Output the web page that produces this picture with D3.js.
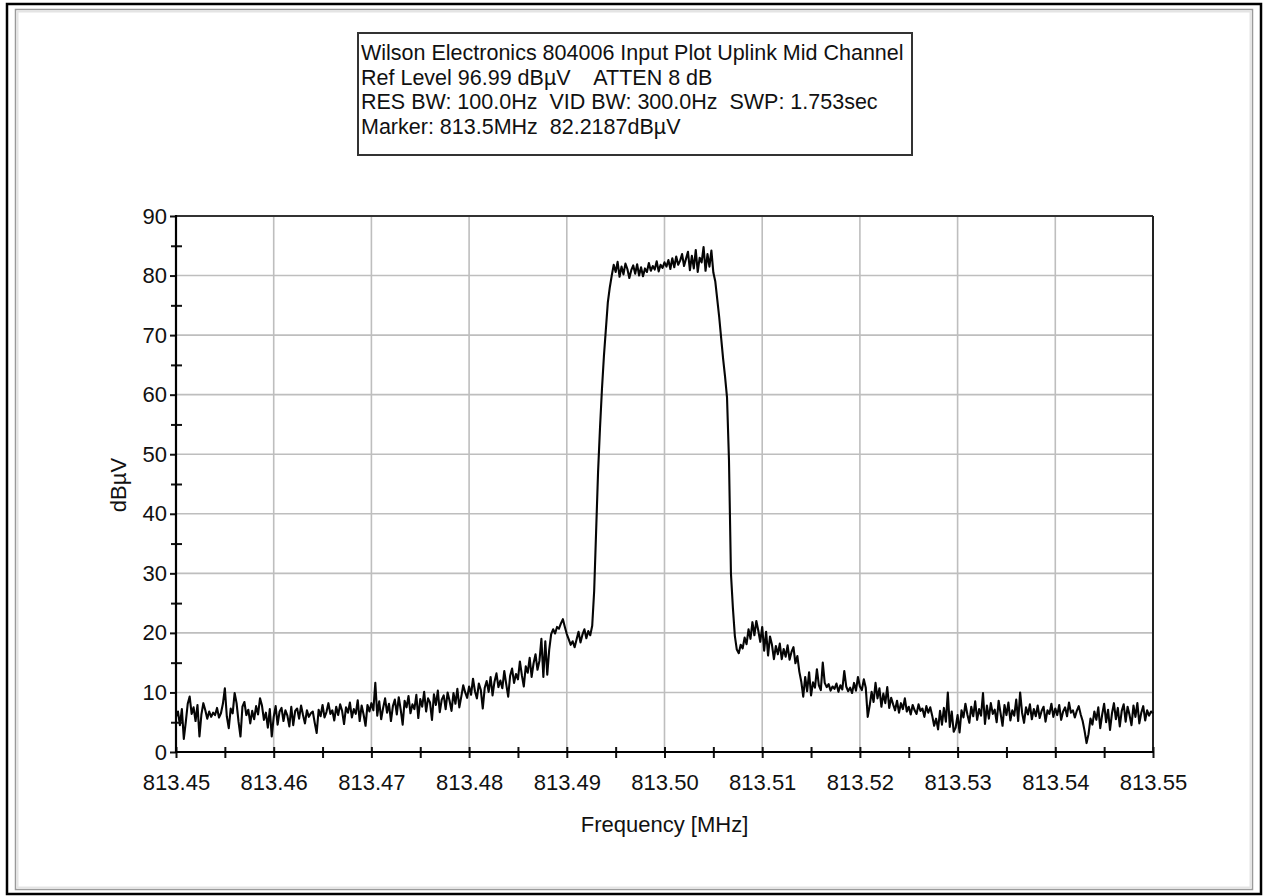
<!DOCTYPE html>
<html>
<head>
<meta charset="utf-8">
<script src="https://cdn.jsdelivr.net/npm/d3@7/dist/d3.min.js"></script>
<style>
  html, body { margin: 0; padding: 0; background: #fff; }
  svg { display: block; }
  text { font-family: "Liberation Sans", Arial, sans-serif; fill: #111; }
</style>
</head>
<body>
<svg id="chart" width="1268" height="896"></svg>
<script>
// Instrument header lines shown in the legend box
const headerLines = [
  "Wilson Electronics 804006 Input Plot Uplink Mid Channel",
  "Ref Level 96.99 dB\u00b5V    ATTEN 8 dB",
  "RES BW: 100.0Hz  VID BW: 300.0Hz  SWP: 1.753sec",
  "Marker: 813.5MHz  82.2187dB\u00b5V"
];

// Sweep settings (MHz)
const sweepStart = 813.45;
const sweepStop = 813.55;

// Axis tick values
const freqTicks = [813.45, 813.46, 813.47, 813.48, 813.49, 813.50, 813.51, 813.52, 813.53, 813.54, 813.55];
const freqMinorTicks = [813.455, 813.465, 813.475, 813.485, 813.495, 813.505, 813.515, 813.525, 813.535, 813.545];
const levelTicks = [0, 10, 20, 30, 40, 50, 60, 70, 80, 90];
const levelMinorTicks = [5, 15, 25, 35, 45, 55, 65, 75, 85];

// Measured trace, dBuV, one reading per sweep point (501 points)
const traceLevels = [
  5.9, 6.8, 4.5, 7.2, 2.2, 5.0, 8.1, 9.3, 6.4, 7.5,
  5.2, 7.9, 2.6, 6.3, 8.2, 7.0, 5.6, 6.8, 5.9, 6.6,
  6.2, 7.4, 5.8, 6.5, 8.1, 10.7, 6.0, 4.0, 7.3, 6.5,
  9.9, 8.2, 5.1, 2.6, 7.6, 8.4, 6.2, 7.1, 4.8, 6.9,
  5.5, 7.7, 6.3, 9.0, 7.8, 5.4, 6.6, 4.1, 7.2, 2.6,
  5.9, 7.7, 4.6, 6.8, 7.4, 5.2, 7.0, 6.1, 4.3, 7.6,
  4.5, 6.9, 7.3, 5.6, 7.8, 6.2, 4.8, 7.0, 5.9, 6.5,
  6.8, 4.9, 3.2, 7.1, 6.0, 7.9, 5.8, 6.7, 8.2, 6.4,
  7.0, 5.3, 7.6, 6.2, 8.0, 6.9, 4.7, 7.5, 6.6, 8.3,
  5.8, 7.2, 6.4, 8.7, 5.2, 7.8, 6.3, 4.4, 7.9, 6.8,
  8.2, 7.0, 11.6, 6.1, 8.5, 5.5, 7.4, 9.0, 6.6, 8.1,
  5.2, 7.7, 8.8, 6.3, 9.2, 7.1, 4.6, 8.6, 7.5, 9.4,
  6.5, 8.0, 7.2, 9.6, 5.7, 8.9, 7.6, 10.1, 6.8, 9.0,
  8.3, 5.4, 9.7, 7.9, 10.3, 6.7, 8.8, 9.5, 7.2, 10.0,
  8.6, 6.9, 9.9, 8.1, 10.6, 7.5, 9.3, 11.2, 10.0, 9.1,
  11.0, 9.6, 12.3, 10.2, 9.0, 11.5, 10.4, 7.3, 10.8, 11.9,
  10.1, 12.6, 9.5, 11.8, 13.2, 10.9, 12.0, 10.7, 13.6, 11.4,
  9.3, 12.8, 14.0, 11.6, 13.1, 12.2, 15.2, 12.9, 11.0, 14.4,
  13.3, 15.8, 12.6, 14.9, 16.4, 13.8, 15.3, 19.0, 12.6, 18.6,
  13.0, 17.2, 19.8, 20.6, 19.9, 21.0, 20.7, 21.6, 22.3, 21.0,
  19.8, 18.9, 18.0, 18.6, 17.6, 18.9, 20.2, 18.4, 19.7, 20.6,
  19.1, 20.3, 19.6, 21.2, 27.0, 37.0, 47.0, 54.5, 61.0, 66.5,
  71.0, 75.5, 78.0, 80.0, 81.8, 80.6, 82.3, 79.8, 81.5, 80.2,
  82.0, 81.1, 79.6, 80.9, 81.7, 80.3, 81.9, 80.0, 81.4, 79.9,
  81.2, 80.6, 82.1, 80.8, 81.6, 81.0, 82.4, 80.7, 81.8, 81.3,
  82.2187, 81.5, 82.6, 81.1, 82.9, 81.4, 83.2, 81.8, 82.5, 83.6,
  81.6, 82.8, 84.0, 80.9, 83.3, 81.2, 84.3, 80.6, 83.0, 82.2,
  84.8, 80.8, 83.6, 81.5, 84.2, 80.5, 79.0, 76.0, 73.0, 69.5,
  66.0, 63.0, 59.5, 49.0, 30.0, 24.2, 19.5, 17.2, 16.6, 18.0,
  17.4, 19.2, 18.1, 20.6, 19.0, 21.8, 19.6, 22.0, 20.4, 18.5,
  21.0, 17.0, 20.2, 16.2, 19.4, 18.0, 15.6, 17.8, 16.4, 18.2,
  15.6, 17.3, 16.0, 17.9, 15.5, 16.8, 17.6, 14.9, 16.1, 13.5,
  11.8, 9.3, 12.6, 10.2, 13.4, 9.5, 11.7, 10.8, 13.9, 11.2,
  10.4, 15.0, 11.6, 10.9, 11.4, 10.3, 11.0, 10.6, 11.5, 10.1,
  11.2, 10.5, 13.6, 11.0, 10.2, 10.8, 9.9, 11.6, 10.3, 12.6,
  11.0, 10.4, 12.2, 10.8, 5.9, 7.8, 10.1, 8.4, 11.6, 9.0,
  10.7, 7.6, 9.8, 8.2, 10.9, 7.4, 9.1, 8.0, 7.0, 8.6,
  6.6, 8.2, 7.2, 9.0, 6.8, 7.6, 6.3, 7.9, 7.0, 6.4,
  8.0, 6.9, 7.3, 5.9, 7.7, 6.6, 7.5, 6.1, 4.4, 5.6,
  3.8, 6.9, 4.6, 7.4, 5.1, 10.0, 4.2, 6.8, 3.4, 4.1,
  6.2, 3.3, 7.0, 5.8, 8.1, 6.3, 4.9, 7.6, 6.0, 8.5,
  5.4, 7.2, 6.1, 9.9, 4.7, 7.8, 5.6, 8.2, 6.4, 7.1,
  5.0, 8.6, 6.5, 4.4, 7.9, 6.2, 8.3, 5.3, 7.0, 6.1,
  8.8, 5.2, 10.0, 6.6, 4.9, 7.5, 6.3, 8.0, 5.5, 7.2,
  6.0, 7.8, 5.7, 6.9, 7.6, 5.1, 7.0, 6.4, 8.1, 5.9,
  7.3, 6.2, 7.9, 5.4, 6.8, 7.5, 6.0, 8.3, 6.6, 7.0,
  5.8, 6.9, 7.7, 6.3, 5.2, 3.5, 1.5, 3.0, 5.6, 4.6,
  6.8, 5.4, 7.5, 4.0, 6.3, 8.1, 5.0, 7.1, 3.7, 6.5,
  8.2, 5.5, 7.4, 4.3, 6.9, 8.0, 5.1, 7.6, 6.2, 4.5,
  7.8, 5.9, 8.2, 4.8, 6.6, 7.7, 5.3, 7.0, 6.1, 6.8,
  6.5
];

const svg = d3.select("#chart");
const W = 1268, H = 896;

// Page frame: dark outer border and grey inset edge
svg.append("rect").attr("x", 0).attr("y", 0).attr("width", W).attr("height", H).attr("fill", "#fff");
svg.append("rect")
  .attr("x", 7).attr("y", 4).attr("width", 1254).attr("height", 890)
  .attr("fill", "none").attr("stroke", "#000").attr("stroke-width", 2.5);
svg.append("rect")
  .attr("x", 15.5).attr("y", 9.5).attr("width", 1237).attr("height", 880)
  .attr("fill", "none").attr("stroke", "#9a9a9a").attr("stroke-width", 1.5);
svg.append("rect")
  .attr("x", 17.5).attr("y", 11.5).attr("width", 1233).attr("height", 876)
  .attr("fill", "none").attr("stroke", "#e4e4e4").attr("stroke-width", 2);

// Plot area
const plot = { left: 176, right: 1153, top: 216, bottom: 752 };
const x = d3.scaleLinear().domain([sweepStart, sweepStop]).range([plot.left, plot.right]);
const y = d3.scaleLinear().domain([0, 90]).range([plot.bottom, plot.top]);

const fontSize = 22;

// Grid
const grid = svg.append("g").attr("stroke", "#bebebe").attr("stroke-width", 1.6);
grid.selectAll("line.v").data(freqTicks.slice(1, -1)).join("line")
  .attr("x1", d => x(d)).attr("x2", d => x(d))
  .attr("y1", plot.top).attr("y2", plot.bottom);
grid.selectAll("line.h").data(levelTicks.slice(1, -1)).join("line")
  .attr("x1", plot.left).attr("x2", plot.right)
  .attr("y1", d => y(d)).attr("y2", d => y(d));

// Top and right plot borders
svg.append("line").attr("x1", plot.left).attr("x2", plot.right).attr("y1", plot.top).attr("y2", plot.top)
  .attr("stroke", "#333").attr("stroke-width", 2);
svg.append("line").attr("x1", plot.right).attr("x2", plot.right).attr("y1", plot.top).attr("y2", plot.bottom)
  .attr("stroke", "#222").attr("stroke-width", 2);

// Trace
const sweepStep = (sweepStop - sweepStart) / (traceLevels.length - 1);
const points = traceLevels.map((v, i) => [sweepStart + i * sweepStep, v]);
const line = d3.line().x(d => x(d[0])).y(d => y(d[1]));
svg.append("path")
  .datum(points)
  .attr("fill", "none")
  .attr("stroke", "#050505")
  .attr("stroke-width", 2.1)
  .attr("stroke-linejoin", "round")
  .attr("d", line);

// X axis: ticks cross the axis line
svg.append("g").attr("transform", `translate(0,${plot.bottom - 5})`)
  .call(d3.axisBottom(x).tickValues(freqTicks).tickSize(11).tickPadding(16).tickFormat(d3.format(".2f")));
svg.append("g").attr("transform", `translate(0,${plot.bottom - 5})`)
  .call(d3.axisBottom(x).tickValues(freqMinorTicks).tickSize(11).tickFormat(""));

// Y axis: major ticks outside, minor ticks across the axis
svg.append("g").attr("transform", `translate(${plot.left},0)`)
  .call(d3.axisLeft(y).tickValues(levelTicks).tickSize(6).tickPadding(3));
svg.append("g").attr("transform", `translate(${plot.left + 6},0)`)
  .call(d3.axisLeft(y).tickValues(levelMinorTicks).tickSize(11).tickFormat(""));

svg.selectAll(".domain").remove();
svg.selectAll(".tick line").attr("stroke", "#111").attr("stroke-width", 2);
svg.selectAll(".tick text")
  .style("font-family", '"Liberation Sans", Arial, sans-serif')
  .style("font-size", fontSize + "px")
  .attr("fill", "#111");

// Axis lines
svg.append("line").attr("x1", plot.left).attr("x2", plot.right + 1).attr("y1", plot.bottom).attr("y2", plot.bottom)
  .attr("stroke", "#000").attr("stroke-width", 2.2);
svg.append("line").attr("x1", plot.left).attr("x2", plot.left).attr("y1", plot.top - 1).attr("y2", plot.bottom + 1)
  .attr("stroke", "#000").attr("stroke-width", 2.2);

// Axis titles
svg.append("text")
  .attr("x", (plot.left + plot.right) / 2).attr("y", 832)
  .attr("text-anchor", "middle")
  .style("font-size", fontSize + "px")
  .text("Frequency [MHz]");
svg.append("text")
  .attr("transform", "translate(126,485) rotate(-90)")
  .attr("text-anchor", "middle")
  .style("font-size", fontSize + "px")
  .text("dB\u00b5V");

// Header box
const box = svg.append("g");
box.append("rect")
  .attr("x", 358).attr("y", 33).attr("width", 554).attr("height", 122)
  .attr("fill", "#fff").attr("stroke", "#333").attr("stroke-width", 2);
box.selectAll("text").data(headerLines).join("text")
  .attr("x", 361)
  .attr("y", (d, i) => 60 + i * 24.5)
  .style("font-size", "21.5px")
  .style("white-space", "pre")
  .attr("xml:space", "preserve")
  .text(d => d);
</script>
</body>
</html>
